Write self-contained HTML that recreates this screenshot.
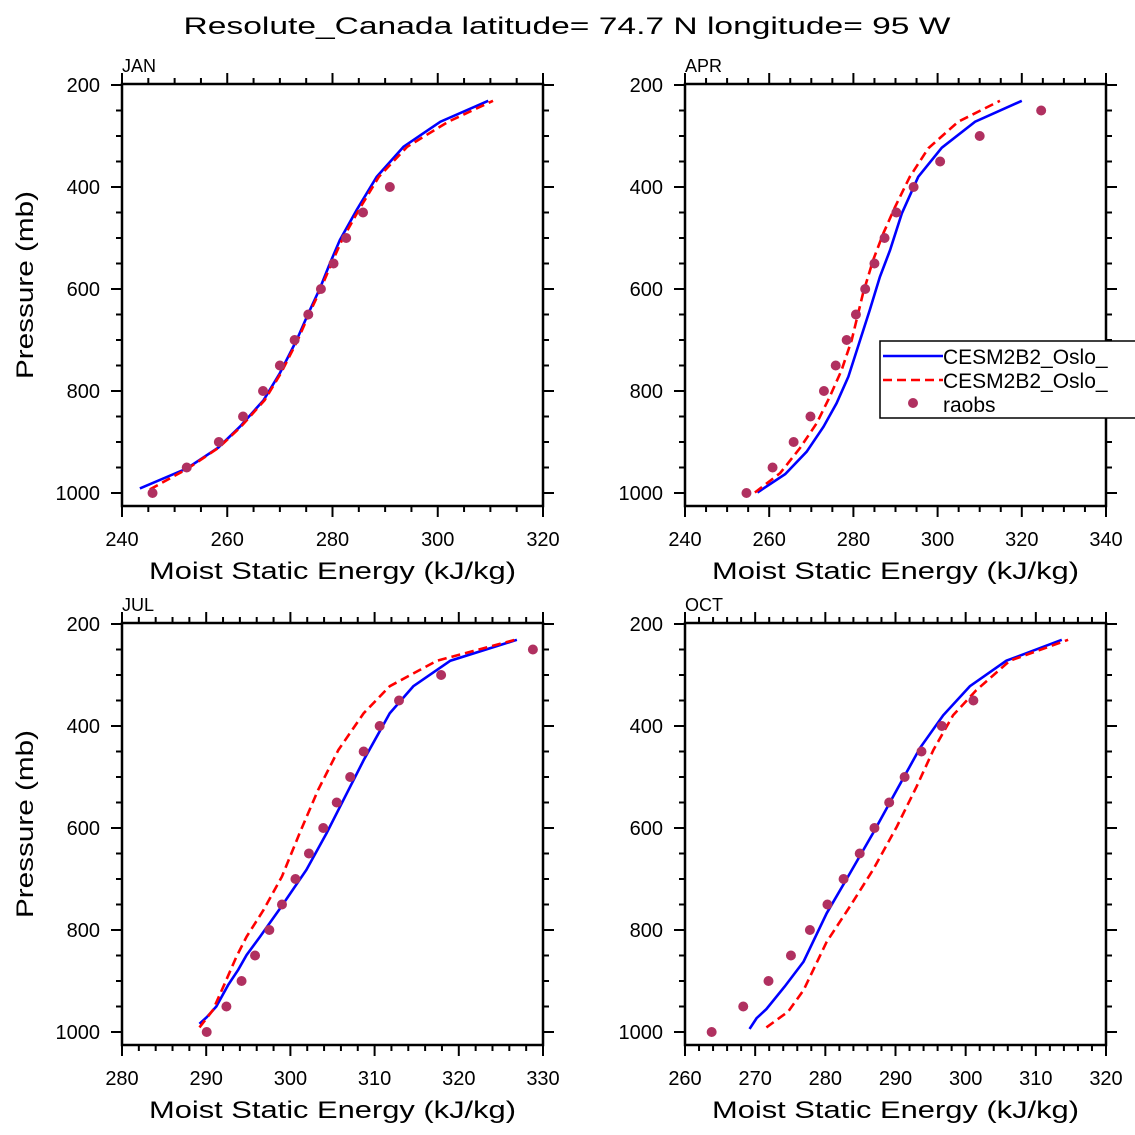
<!DOCTYPE html>
<html><head><meta charset="utf-8"><style>
html,body{margin:0;padding:0;background:#fff;}
svg{display:block;font-family:"Liberation Sans",sans-serif;}
</style></head><body>
<svg id="chart" width="1135" height="1135" viewBox="0 0 1135 1135" xmlns="http://www.w3.org/2000/svg">
<text x="567" y="34" font-size="24" text-anchor="middle" textLength="767" lengthAdjust="spacingAndGlyphs">Resolute_Canada  latitude= 74.7 N longitude= 95 W</text>
</svg>
<script>
// ---------- data ----------
const pressureLevels = [1000,950,900,850,800,750,700,650,600,550,500,450,400,350,300,250];
const yTicks = [200,400,600,800,1000];

const janBlueX = [243.4,252.3,258.3,262.4,266.9,270,273.2,275.4,277.6,279.5,281.4,284.6,288.4,293.5,300.5,309.6];
const janBlueP = [991,952,911,870,818,765,700,648,599,550,504,445,380,321,272,231];
const janRedX  = [245.3,252.5,258.4,262.6,267.1,270.2,273.4,275.6,277.8,279.8,281.8,285.0,288.8,294.2,302.0,310.5];
const janRedP  = [993,952,911,870,818,765,700,648,599,550,504,445,380,321,272,231];
const janObs   = [245.8,252.3,258.4,263.0,266.8,270.0,272.8,275.4,277.8,280.2,282.6,285.8,290.9];

const aprBlueX = [257.2,263.8,268.9,272.9,276.0,278.8,281.6,283.9,286.3,288.7,291.5,295.4,301.0,308.9,320.0];
const aprBlueP = [999,963,919,870,824,772,700,641,576,524,452,380,323,272,231];
const aprRedX  = [256.6,262.6,267.3,271.3,274.4,277.2,279.6,282.3,284.7,287.1,289.9,293.4,297.8,304.9,314.8];
const aprRedP  = [999,961,912,863,811,759,700,608,543,491,439,380,324,272,231];
const aprObs   = [254.6,260.8,265.8,269.8,273.0,275.8,278.4,280.6,282.8,285.0,287.4,290.2,294.3,300.6,310.0,324.6];

const julBlueX = [289.2,290.06,291.2,292.6,293.8,294.8,296.4,298.8,301.9,304.3,306.3,308.7,311.8,314.6,319.0,326.9];
const julBlueP = [984,971,950,908,878,849,813,757,682,610,545,467,375,322,272,231];
const julRedX  = [289.2,290.8,292.2,293.6,294.8,296.8,299.0,301.1,303.3,305.7,308.7,311.8,317.4,326.7];
const julRedP  = [991,957,905,852,813,761,695,610,525,447,375,322,272,231];
const julObs   = [290.06,292.4,294.2,295.8,297.5,299.0,300.6,302.2,303.9,305.5,307.1,308.7,310.6,312.9,317.9,328.8];

const octBlueX = [269.2,270.2,271.6,274.2,276.9,280.2,283.5,286.8,290.2,293.5,296.8,300.6,305.8,313.7];
const octBlueP = [994,973,955,911,862,767,689,610,525,443,379,322,272,231];
const octRedX  = [271.6,274.7,276.9,280.2,283.5,286.8,290.2,293.0,295.4,298.2,301.5,306.3,314.6];
const octRedP  = [991,960,918,823,754,682,597,519,447,379,330,272,231];
const octObs   = [263.8,268.3,271.9,275.1,277.8,280.3,282.6,284.9,287.0,289.1,291.3,293.7,296.6,301.1];

const janXTicks = [240,260,280,300,320];
const aprXTicks = [240,260,280,300,320,340];
const julXTicks = [280,290,300,310,320,330];
const octXTicks = [260,270,280,290,300,310,320];

const legendLabels = ["CESM2B2_Oslo_","CESM2B2_Oslo_","raobs"];

// ---------- drawing ----------
const NS="http://www.w3.org/2000/svg";
const svg=document.getElementById('chart');
function mk(tag,attrs,parent){const e=document.createElementNS(NS,tag);for(const k in attrs)e.setAttribute(k,attrs[k]);(parent||svg).appendChild(e);return e;}

function panel(cfg){
  const g=mk('g',{});
  
  
  const L=cfg.left,R=cfg.right,T=cfg.top;
  const p200=cfg.top+1, pscale=0.51;
  const B=T+422;
  const xs=v=>L+(v-cfg.xmin)/(cfg.xmax-cfg.xmin)*(R-L);
  const ys=p=>p200+(p-200)*pscale;
  // frame
  const fr=mk('rect',{x:L,y:T,width:R-L,height:B-T,fill:'none',stroke:'#000','stroke-width':2.5},g);
  
  
  // x ticks
  for(let v=cfg.xmin;v<=cfg.xmax+1e-6;v+=cfg.xminor){
    const major=cfg.xticks.some(t=>Math.abs(t-v)<1e-6);
    const len=major?11:6, x=xs(v);
    mk('line',{x1:x,y1:T,x2:x,y2:T-len,stroke:'#000','stroke-width':2},g);
    mk('line',{x1:x,y1:B,x2:x,y2:B+len,stroke:'#000','stroke-width':2},g);
  }
  cfg.xticks.forEach(v=>{
    const t=mk('text',{x:xs(v),y:B+40,'font-size':20,'text-anchor':'middle'},g);
    t.textContent=v;
    
    
  });
  // y ticks
  for(let p=200;p<=1000;p+=50){
    const major=yTicks.includes(p), len=major?11:6, y=ys(p);
    mk('line',{x1:L,y1:y,x2:L-len,y2:y,stroke:'#000','stroke-width':2},g);
    mk('line',{x1:R,y1:y,x2:R+len,y2:y,stroke:'#000','stroke-width':2},g);
  }
  yTicks.forEach(p=>{
    const t=mk('text',{x:L-22,y:ys(p)+7,'font-size':20,'text-anchor':'end'},g);
    t.textContent=p;
    
    
  });
  // labels
  const lab=mk('text',{x:L,y:T-12,'font-size':18},g);
  lab.textContent=cfg.label;
  
  
  const xt=mk('text',{x:(L+R)/2,y:B+73,'font-size':24,'text-anchor':'middle',textLength:367,lengthAdjust:'spacingAndGlyphs'},g);
  xt.textContent='Moist Static Energy (kJ/kg)';
  
  
  if(cfg.ytitle){
    const cy=(T+B)/2-10;
    const yt=mk('text',{x:0,y:0,'font-size':24,'text-anchor':'middle',textLength:188,lengthAdjust:'spacingAndGlyphs',transform:`translate(33,${cy}) rotate(-90)`},g);
    yt.textContent='Pressure (mb)';
    
    
  }
  // series
  const blue=mk('polyline',{points:cfg.bx.map((v,i)=>xs(v)+','+ys(cfg.bp[i])).join(' '),fill:'none',stroke:'#0000ff','stroke-width':2.6},g);
  
  
  const red=mk('polyline',{points:cfg.rx.map((v,i)=>xs(v)+','+ys(cfg.rp[i])).join(' '),fill:'none',stroke:'#ff0000','stroke-width':2.6,'stroke-dasharray':'9,5'},g);
  
  
  cfg.obs.forEach((v,i)=>{
    const c=mk('circle',{cx:xs(v),cy:ys(pressureLevels[i]),r:5,fill:'#b03060'},g);
    
    
  });
  return {g,xs,ys};
}

panel({name:'jan',label:'JAN',left:122,right:543,top:84,xmin:240,xmax:320,xminor:5,xticks:janXTicks,ytitle:true,bx:janBlueX,bp:janBlueP,rx:janRedX,rp:janRedP,obs:janObs});
const apr=panel({name:'apr',label:'APR',left:685,right:1106,top:84,xmin:240,xmax:340,xminor:5,xticks:aprXTicks,ytitle:false,bx:aprBlueX,bp:aprBlueP,rx:aprRedX,rp:aprRedP,obs:aprObs});
panel({name:'jul',label:'JUL',left:122,right:543,top:623,xmin:280,xmax:330,xminor:2,xticks:julXTicks,ytitle:true,bx:julBlueX,bp:julBlueP,rx:julRedX,rp:julRedP,obs:julObs});
panel({name:'oct',label:'OCT',left:685,right:1106,top:623,xmin:260,xmax:320,xminor:2,xticks:octXTicks,ytitle:false,bx:octBlueX,bp:octBlueP,rx:octRedX,rp:octRedP,obs:octObs});

// legend
const lg=mk('g',{});


mk('rect',{x:880,y:341,width:270,height:77,fill:'#fff',stroke:'#000','stroke-width':1.5},lg);
const rows=[356,380,404];
const l1=mk('line',{x1:883,y1:rows[0],x2:943,y2:rows[0],stroke:'#0000ff','stroke-width':2.6},lg);


const l2=mk('line',{x1:883,y1:rows[1],x2:943,y2:rows[1],stroke:'#ff0000','stroke-width':2.6,'stroke-dasharray':'9,5'},lg);


const l3=mk('circle',{cx:913,cy:rows[2]-1,r:5,fill:'#b03060'},lg);


legendLabels.forEach((s,i)=>{
  const t=mk('text',{x:943,y:rows[i]+8,'font-size':21},lg);
  t.textContent=s;
  
  
});
</script>
</body></html>
